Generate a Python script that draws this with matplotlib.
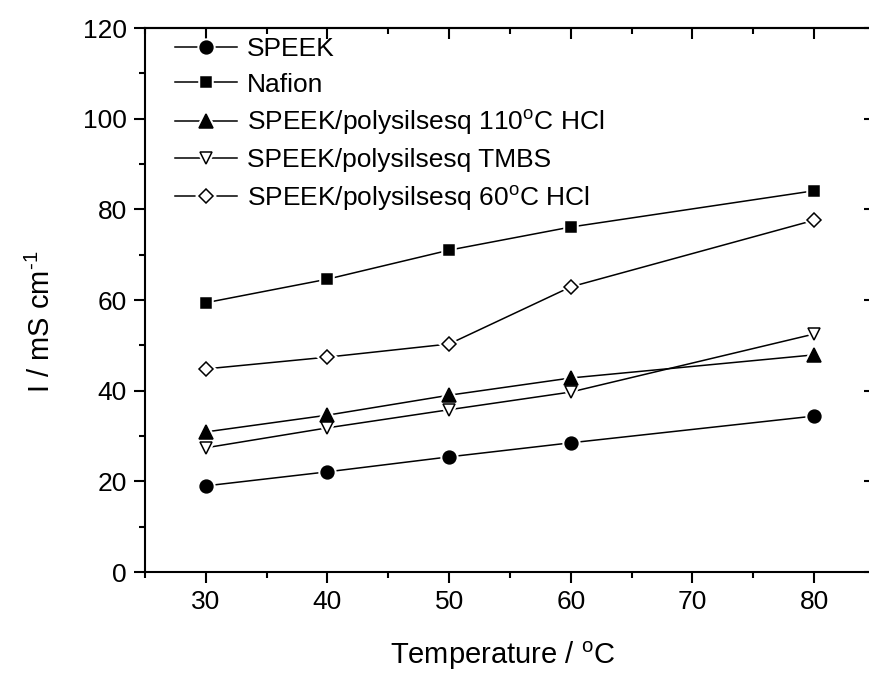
import matplotlib
matplotlib.use("Agg")
import matplotlib.pyplot as plt
from matplotlib.ticker import MultipleLocator
from matplotlib.legend_handler import HandlerTuple

plt.rcParams['font.family'] = ['Liberation Sans', 'DejaVu Sans']
plt.rcParams['mathtext.fontset'] = 'custom'
plt.rcParams['mathtext.rm'] = 'Liberation Sans'
plt.rcParams['mathtext.it'] = 'Liberation Sans:italic'
plt.rcParams['mathtext.default'] = 'regular'

# Proton conductivity vs temperature
temperature = [30, 40, 50, 60, 80]
speek = [19.0, 22.1, 25.4, 28.5, 34.4]
nafion = [59.4, 64.6, 71.0, 76.1, 84.1]
hcl_110 = [30.9, 34.6, 39.0, 42.8, 47.9]
tmbs = [27.4, 31.8, 35.8, 39.7, 52.5]
hcl_60 = [44.8, 47.4, 50.3, 62.9, 77.6]

series_labels = [
    "SPEEK",
    "Nafion",
    "SPEEK/polysilsesq 110$^{o}$C HCl",
    "SPEEK/polysilsesq TMBS",
    "SPEEK/polysilsesq 60$^{o}$C HCl",
]
series_values = [speek, nafion, hcl_110, tmbs, hcl_60]
markers = ['o', 's', '^', 'v', 'D']
marker_sizes = [9.2, 7.6, 9.4, 9.2, 7.4]
filled = [True, True, True, False, False]

FS = 19

fig = plt.figure(figsize=(8.7, 6.86), dpi=100)
ax = fig.add_axes([145 / 870, 114 / 686, 730 / 870, 544 / 686])

handles = []
for vals, m, ms, f in zip(series_values, markers, marker_sizes, filled):
    line, = ax.plot(temperature, vals, color='black', lw=1.1, zorder=2)
    halo, = ax.plot(temperature, vals, ls='none', marker=m, ms=ms,
                    mfc='white', mec='white', mew=4.0, zorder=3)
    mark, = ax.plot(temperature, vals, ls='none', marker=m, ms=ms,
                    mfc='black' if f else 'white', mec='black', mew=1.1,
                    zorder=4)
    handles.append((line, halo, mark))

ax.set_xlim(25, 85)
ax.set_ylim(0, 120)
ax.xaxis.set_major_locator(MultipleLocator(10))
ax.xaxis.set_minor_locator(MultipleLocator(5))
ax.yaxis.set_major_locator(MultipleLocator(20))
ax.yaxis.set_minor_locator(MultipleLocator(10))

for s in ax.spines.values():
    s.set_linewidth(1.5)
ax.spines['right'].set_visible(False)

ax.tick_params(which='both', direction='out', width=1.5, labelsize=FS,
               top=False, right=False)
ax.tick_params(which='major', length=8, pad=5)
ax.tick_params(which='minor', length=4)

# Inward ticks on the top and right frame
top = ax.secondary_xaxis('top')
top.xaxis.set_major_locator(MultipleLocator(10))
top.xaxis.set_minor_locator(MultipleLocator(5))
top.tick_params(which='both', direction='in', width=1.5, labeltop=False)
top.tick_params(which='major', length=8)
top.tick_params(which='minor', length=4)
top.spines['top'].set_linewidth(1.5)

right = ax.secondary_yaxis('right')
right.yaxis.set_major_locator(MultipleLocator(20))
right.yaxis.set_minor_locator(MultipleLocator(10))
right.tick_params(which='both', direction='in', width=1.5, labelright=False)
right.tick_params(which='major', length=8)
right.tick_params(which='minor', length=4)
right.spines['right'].set_visible(False)

ax.set_xlabel("Temperature / $^{o}$C", fontsize=FS + 2, va='top')
ax.xaxis.set_label_coords(0.49, -0.125)
ax.set_ylabel("I / mS cm$^{\u2010 1}$", fontsize=FS + 2)
ax.yaxis.set_label_coords(-0.122, 0.46)

ax.legend(handles, series_labels,
          handler_map={tuple: HandlerTuple(ndivide=1, pad=0)},
          loc='upper left', bbox_to_anchor=(0.041, 0.983), frameon=False,
          fontsize=FS, numpoints=1, handlelength=2.35, handletextpad=0.38,
          labelspacing=0.43, borderpad=0, borderaxespad=0)

fig.savefig("out.png", dpi=100)
